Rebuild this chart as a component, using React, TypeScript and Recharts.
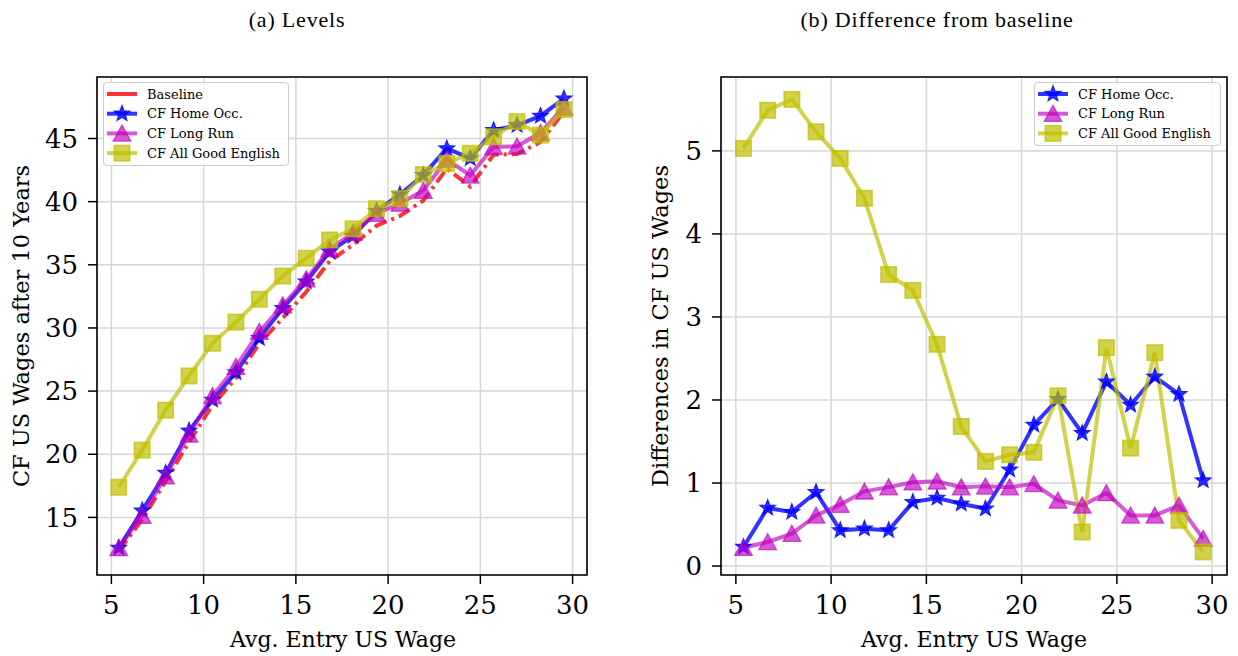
import React from 'react';
import { LineChart, Line, XAxis, YAxis, CartesianGrid, ReferenceArea } from 'recharts';

// ---- data ----
const entryWage = [5.40, 6.67, 7.94, 9.21, 10.48, 11.75, 13.02, 14.29, 15.56, 16.83, 18.10, 19.37, 20.64, 21.91, 23.18, 24.45, 25.72, 26.99, 28.26, 29.53];

const baselineLevels = [12.36, 14.84, 17.87, 20.97, 23.88, 26.03, 28.76, 30.79, 32.85, 35.29, 36.59, 38.10, 38.87, 40.09, 42.61, 41.20, 43.72, 43.77, 44.72, 47.13];
const homeOccLevels = [12.59, 15.54, 18.52, 21.86, 24.31, 26.48, 29.19, 31.56, 33.67, 36.04, 37.28, 39.26, 40.57, 42.10, 44.21, 43.42, 45.66, 46.05, 46.79, 48.16];
const longRunLevels = [12.58, 15.13, 18.26, 21.58, 24.62, 26.93, 29.71, 31.80, 33.87, 36.24, 37.55, 39.05, 39.86, 40.88, 43.34, 42.08, 44.33, 44.38, 45.45, 47.46];
const goodEnglishLevels = [17.39, 20.33, 23.49, 26.20, 28.79, 30.46, 32.27, 34.11, 35.52, 36.97, 37.85, 39.44, 40.24, 42.14, 43.02, 43.83, 45.14, 46.34, 45.27, 47.30];

const homeOccDiff = [0.23, 0.70, 0.65, 0.89, 0.43, 0.45, 0.43, 0.77, 0.82, 0.75, 0.69, 1.16, 1.70, 2.01, 1.60, 2.22, 1.94, 2.28, 2.07, 1.03];
const longRunDiff = [0.22, 0.29, 0.39, 0.61, 0.74, 0.90, 0.95, 1.01, 1.02, 0.95, 0.96, 0.95, 0.99, 0.79, 0.73, 0.88, 0.61, 0.61, 0.73, 0.33];
const goodEnglishDiff = [5.03, 5.49, 5.62, 5.23, 4.91, 4.43, 3.51, 3.32, 2.67, 1.68, 1.26, 1.34, 1.37, 2.05, 0.41, 2.63, 1.42, 2.57, 0.55, 0.17];

const xTicks = [5, 10, 15, 20, 25, 30];
const levelTicks = [15, 20, 25, 30, 35, 40, 45];
const diffTicks = [0, 1, 2, 3, 4, 5];

const levelData = entryWage.map((x, i) => ({
  x,
  baseline: baselineLevels[i],
  homeOcc: homeOccLevels[i],
  longRun: longRunLevels[i],
  goodEnglish: goodEnglishLevels[i],
}));
const diffData = entryWage.map((x, i) => ({
  x,
  homeOcc: homeOccDiff[i],
  longRun: longRunDiff[i],
  goodEnglish: goodEnglishDiff[i],
}));

// ---- styles ----
const RED = '#ff0000';
const BLUE = '#0000ff';
const MAG = '#bf00bf';
const YEL = '#bfbf00';
const FONT = 'DejaVu Serif';
const LW = 4;
const X_DOMAIN: [number, number] = [4.22, 30.78];
const L_DOMAIN: [number, number] = [10.44, 49.87];
const D_DOMAIN: [number, number] = [-0.108, 5.89];

function starPoints(cx: number, cy: number, R: number, r: number) {
  const pts: string[] = [];
  for (let k = 0; k < 10; k++) {
    const ang = -Math.PI / 2 + (k * Math.PI) / 5;
    const rad = k % 2 === 0 ? R : r;
    pts.push(`${cx + rad * Math.cos(ang)},${cy + rad * Math.sin(ang)}`);
  }
  return pts.join(' ');
}

const StarMark = ({ cx, cy, op }: any) => (
  <polygon points={starPoints(cx, cy, 8.3, 3.5)} fill={BLUE} fillOpacity={op} stroke={BLUE} strokeOpacity={op} strokeWidth={1.2} />
);
const TriMark = ({ cx, cy, op }: any) => (
  <polygon points={`${cx},${cy - 8.3} ${cx - 8.8},${cy + 7.7} ${cx + 8.8},${cy + 7.7}`} fill={MAG} fillOpacity={op} stroke={MAG} strokeOpacity={op} strokeWidth={1.3} />
);
const SqMark = ({ cx, cy, op }: any) => (
  <rect x={cx - 7.7} y={cy - 7.7} width={15.4} height={15.4} fill={YEL} fillOpacity={op} stroke={YEL} strokeOpacity={op} strokeWidth={1.6} />
);

const starDot = (p: any) => (p.cx == null ? <g key={`s${p.index}`} /> : <StarMark key={`s${p.index}`} cx={p.cx} cy={p.cy} op={0.8} />);
const triDot = (p: any) => (p.cx == null ? <g key={`t${p.index}`} /> : <TriMark key={`t${p.index}`} cx={p.cx} cy={p.cy} op={0.65} />);
const sqDot = (p: any) => (p.cx == null ? <g key={`q${p.index}`} /> : <SqMark key={`q${p.index}`} cx={p.cx} cy={p.cy} op={0.7} />);

const tickStyle = { fontFamily: FONT, fontSize: 26, fill: '#000' };
const tickLine = { stroke: '#000', strokeWidth: 1.5 };

type LegendItem = { label: string; kind: 'line' | 'star' | 'tri' | 'sq' };

const LegendBox = ({ left, top, width, items }: { left: number; top: number; width: number; items: LegendItem[] }) => {
  const rowH = 19.7;
  const height = items.length * rowH + 5;
  return (
    <div style={{ position: 'absolute', left, top, width, height, boxSizing: 'border-box', border: '1.2px solid #cccccc', borderRadius: 4, background: 'rgba(255,255,255,0.85)' }}>
      <svg width={width} height={height} style={{ position: 'absolute', left: -1, top: -1 }}>
        {items.map((it, i) => {
          const cy = 12 + i * rowH;
          const x1 = 4, x2 = 34, cx = 19;
          let color = RED, op = 0.8;
          if (it.kind === 'star') { color = BLUE; op = 0.8; }
          if (it.kind === 'tri') { color = MAG; op = 0.65; }
          if (it.kind === 'sq') { color = YEL; op = 0.7; }
          return (
            <g key={it.label}>
              <line x1={x1} x2={x2} y1={cy} y2={cy} stroke={color} strokeOpacity={op} strokeWidth={LW} />
              {it.kind === 'star' && <StarMark cx={cx} cy={cy} op={op} />}
              {it.kind === 'tri' && <TriMark cx={cx} cy={cy} op={op} />}
              {it.kind === 'sq' && <SqMark cx={cx} cy={cy} op={op} />}
              <text x={44} y={cy + 4.6} fontFamily={FONT} fontSize={13} fill="#000">{it.label}</text>
            </g>
          );
        })}
      </svg>
    </div>
  );
};

export default function App() {
  return (
    <div style={{ position: 'absolute', left: 0, top: 0, width: 1238, height: 656, background: '#fff', overflow: 'hidden' }}>
      <div style={{ position: 'absolute', left: 0, top: 0 }}>
        <LineChart width={600} height={656} data={levelData} margin={{ top: 77, right: 13, bottom: 41, left: 17 }}>
          <CartesianGrid stroke="#d6d6d6" strokeWidth={1.5} />
          <XAxis type="number" dataKey="x" domain={X_DOMAIN} ticks={xTicks} allowDataOverflow height={40} tickSize={9} tickMargin={12} axisLine={false} tickLine={tickLine} tick={tickStyle} />
          <YAxis type="number" domain={L_DOMAIN} ticks={levelTicks} allowDataOverflow width={80} tickSize={9} tickMargin={10} axisLine={false} tickLine={tickLine} tick={tickStyle} />
          <ReferenceArea x1={X_DOMAIN[0]} x2={X_DOMAIN[1]} y1={L_DOMAIN[0]} y2={L_DOMAIN[1]} fill="none" fillOpacity={0} stroke="#000" strokeWidth={1.6} ifOverflow="visible" />
          <Line dataKey="baseline" stroke={RED} strokeOpacity={0.8} strokeWidth={LW} strokeDasharray="13 5 3 5" dot={false} activeDot={false} isAnimationActive={false} />
          <Line dataKey="homeOcc" stroke={BLUE} strokeOpacity={0.8} strokeWidth={LW} dot={starDot} activeDot={false} isAnimationActive={false} />
          <Line dataKey="longRun" stroke={MAG} strokeOpacity={0.65} strokeWidth={LW} dot={triDot} activeDot={false} isAnimationActive={false} />
          <Line dataKey="goodEnglish" stroke={YEL} strokeOpacity={0.7} strokeWidth={LW} dot={sqDot} activeDot={false} isAnimationActive={false} />
        </LineChart>
      </div>
      <div style={{ position: 'absolute', left: 640, top: 0 }}>
        <LineChart width={598} height={656} data={diffData} margin={{ top: 77, right: 11, bottom: 41, left: 21 }}>
          <CartesianGrid stroke="#d6d6d6" strokeWidth={1.5} />
          <XAxis type="number" dataKey="x" domain={X_DOMAIN} ticks={xTicks} allowDataOverflow height={40} tickSize={9} tickMargin={12} axisLine={false} tickLine={tickLine} tick={tickStyle} />
          <YAxis type="number" domain={D_DOMAIN} ticks={diffTicks} allowDataOverflow width={60} tickSize={9} tickMargin={10} axisLine={false} tickLine={tickLine} tick={tickStyle} />
          <ReferenceArea x1={X_DOMAIN[0]} x2={X_DOMAIN[1]} y1={D_DOMAIN[0]} y2={D_DOMAIN[1]} fill="none" fillOpacity={0} stroke="#000" strokeWidth={1.6} ifOverflow="visible" />
          <Line dataKey="homeOcc" stroke={BLUE} strokeOpacity={0.8} strokeWidth={LW} dot={starDot} activeDot={false} isAnimationActive={false} />
          <Line dataKey="longRun" stroke={MAG} strokeOpacity={0.65} strokeWidth={LW} dot={triDot} activeDot={false} isAnimationActive={false} />
          <Line dataKey="goodEnglish" stroke={YEL} strokeOpacity={0.7} strokeWidth={LW} dot={sqDot} activeDot={false} isAnimationActive={false} />
        </LineChart>
      </div>
      <LegendBox left={103} top={82} width={186} items={[
        { label: 'Baseline', kind: 'line' },
        { label: 'CF Home Occ.', kind: 'star' },
        { label: 'CF Long Run', kind: 'tri' },
        { label: 'CF All Good English', kind: 'sq' },
      ]} />
      <LegendBox left={1034} top={82} width={187} items={[
        { label: 'CF Home Occ.', kind: 'star' },
        { label: 'CF Long Run', kind: 'tri' },
        { label: 'CF All Good English', kind: 'sq' },
      ]} />
      <svg width={1238} height={656} style={{ position: 'absolute', left: 0, top: 0, pointerEvents: 'none' }}>
        <text x={297} y={26.5} textAnchor="middle" fontFamily="Liberation Serif" fontSize={22} letterSpacing={0.8} fill="#000">(a) Levels</text>
        <text x={937} y={26.5} textAnchor="middle" fontFamily="Liberation Serif" fontSize={22} letterSpacing={0.8} fill="#000">(b) Difference from baseline</text>
        <text x={343} y={647} textAnchor="middle" fontFamily={FONT} fontSize={22} fill="#000">Avg. Entry US Wage</text>
        <text x={974} y={647} textAnchor="middle" fontFamily={FONT} fontSize={22} fill="#000">Avg. Entry US Wage</text>
        <text x={28.5} y={326} textAnchor="middle" fontFamily={FONT} fontSize={22.5} fill="#000" transform="rotate(-90 28.5 326)">CF US Wages after 10 Years</text>
        <text x={668} y={326} textAnchor="middle" fontFamily={FONT} fontSize={22.5} fill="#000" transform="rotate(-90 668 326)">Differences in CF US Wages</text>
      </svg>
    </div>
  );
}
